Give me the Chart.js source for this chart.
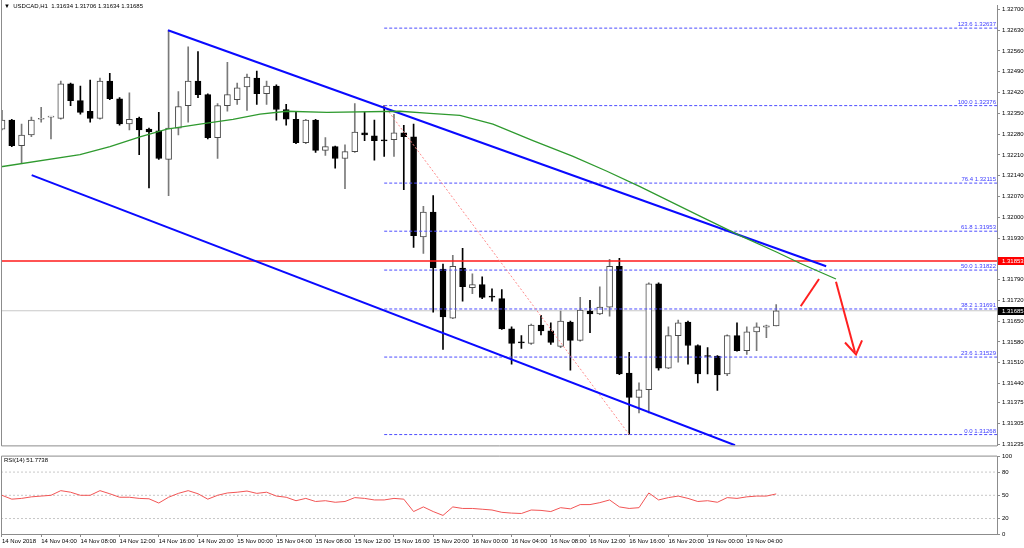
<!DOCTYPE html>
<html>
<head>
<meta charset="utf-8">
<script src="https://cdn.jsdelivr.net/npm/chart.js@4.4.0/dist/chart.umd.min.js"></script>
<style>
  body { margin: 0; background: #fff; width: 1024px; height: 548px; overflow: hidden; }
  .box { position: absolute; left: 0; width: 1024px; }
</style>
</head>
<body>
<div class="box" style="top:0;height:451px"><canvas id="price_chart"></canvas></div>
<div class="box" style="top:451px;height:97px"><canvas id="rsi_chart"></canvas></div>
<script>
// USDCAD H1, 14 Nov 2018 00:00 .. 19 Nov 2018 07:00 (one value per bar)
const opens = [
  1.32297,1.32327,1.32241,1.32277,1.32330,1.32337,1.32333,1.32449,1.32393,1.32357,
  1.32333,1.32459,1.32399,1.32314,1.32333,1.32297,1.32291,1.32195,1.32300,1.32376,
  1.32459,1.32413,1.32268,1.32376,1.32396,1.32439,1.32469,1.32416,1.32442,1.32363,
  1.32330,1.32251,1.32327,1.32225,1.32238,1.32198,1.32221,1.32284,1.32274,1.32258,
  1.32261,1.32284,1.32271,1.31934,1.32017,1.31825,1.31660,1.31829,1.31763,1.31773,
  1.31733,1.31726,1.31624,1.31578,1.31575,1.31637,1.31617,1.31565,1.31647,1.31585,
  1.31684,1.31674,1.31697,1.31835,1.31475,1.31393,1.31419,1.31776,1.31492,1.31601,
  1.31647,1.31568,1.31532,1.31532,1.31472,1.31601,1.31551,1.31614,1.31630,1.31634
];
const highs = [
  1.32360,1.32330,1.32314,1.32337,1.32370,1.32340,1.32459,1.32452,1.32442,1.32462,
  1.32469,1.32485,1.32403,1.32419,1.32337,1.32300,1.32353,1.32630,1.32423,1.32574,
  1.32558,1.32416,1.32383,1.32522,1.32452,1.32482,1.32492,1.32459,1.32446,1.32380,
  1.32353,1.32330,1.32330,1.32268,1.32240,1.32244,1.32383,1.32353,1.32327,1.32376,
  1.32347,1.32310,1.32314,1.32037,1.32073,1.31842,1.31872,1.31895,1.31809,1.31799,
  1.31759,1.31756,1.31631,1.31601,1.31640,1.31670,1.31644,1.31684,1.31650,1.31730,
  1.31720,1.31766,1.31858,1.31862,1.31545,1.31442,1.31779,1.31779,1.31631,1.31654,
  1.31650,1.31570,1.31561,1.31534,1.31604,1.31644,1.31631,1.31644,1.31637,1.31706
];
const lows = [
  1.32294,1.32238,1.32182,1.32271,1.32320,1.32264,1.32330,1.32376,1.32347,1.32320,
  1.32330,1.32396,1.32310,1.32294,1.32211,1.32099,1.32195,1.32073,1.32277,1.32320,
  1.32403,1.32264,1.32198,1.32357,1.32380,1.32360,1.32380,1.32380,1.32327,1.32310,
  1.32248,1.32248,1.32218,1.32208,1.32165,1.32096,1.32218,1.32258,1.32192,1.32205,
  1.32205,1.32093,1.31898,1.31878,1.31680,1.31555,1.31658,1.31717,1.31743,1.31726,
  1.31717,1.31622,1.31505,1.31558,1.31572,1.31604,1.31572,1.31561,1.31485,1.31583,
  1.31611,1.31672,1.31667,1.31470,1.31268,1.31341,1.31341,1.31485,1.31490,1.31512,
  1.31505,1.31442,1.31472,1.31417,1.31466,1.31549,1.31538,1.31551,1.31594,1.31634
];
const closes = [
  1.32327,1.32241,1.32277,1.32327,1.32333,1.32338,1.32449,1.32393,1.32353,1.32333,
  1.32459,1.32399,1.32314,1.32330,1.32294,1.32287,1.32198,1.32300,1.32373,1.32459,
  1.32413,1.32268,1.32376,1.32413,1.32436,1.32472,1.32416,1.32442,1.32363,1.32330,
  1.32251,1.32327,1.32225,1.32238,1.32198,1.32221,1.32287,1.32277,1.32258,1.32257,
  1.32284,1.32271,1.31938,1.32017,1.31829,1.31664,1.31835,1.31766,1.31773,1.31730,
  1.31731,1.31624,1.31575,1.31577,1.31637,1.31617,1.31578,1.31650,1.31585,1.31687,
  1.31674,1.31697,1.31835,1.31472,1.31393,1.31419,1.31776,1.31492,1.31601,1.31644,
  1.31568,1.31472,1.31531,1.31469,1.31601,1.31551,1.31614,1.31631,1.31634,1.31685
];
const rsi_values = [
  50,45,46,48,49,50,56,54,50,50,
  56,52,47.5,47.5,46,45.5,40,47.5,52.5,56,
  52,45,50,53,54,55.5,52.5,54,49,47.5,
  43,46,42,43,41,42,47,46,44,44,
  46,45,29,35,29,24,35,33,33,32,
  31,28,27,26.5,31,30.5,29,34,32.5,38,
  38,40.5,44,35,33,34,53,44,47,49,
  46,42,43,41,47,46,48,49,49,51.77
];

// green moving average, read at a few bars (bar index, price)
const ma_bars   = [-0.1, 7.96, 11.02, 14.08, 16.84, 20.2, 23.57, 26.33, 29.08, 33.16, 40.6, 43.67, 46.73, 50.1, 54.18, 58.27, 61.73, 65.1, 71.22, 75.31, 79.08, 81.43, 85.1];
const ma_prices = [1.32170,1.32211,1.32238,1.32271,1.32297,1.32314,1.32330,1.32347,1.32357,1.32353,1.32357,1.32350,1.32343,1.32314,1.32258,1.32205,1.32155,1.32103,1.32004,1.31938,1.31882,1.31845,1.31792];

// channel lines (bar index, price)
const upper_line = [[16.94, 1.32630], [84.1, 1.31835]];
const lower_line = [[3.03, 1.32142], [74.8, 1.31232]];
// expected move sketch
const arrow_up   = [[81.5, 1.31700], [83.37, 1.31792]];
const arrow_down = [[85.1, 1.31783], [87.04, 1.31545]];
const arrow_head = [[86.02, 1.31578], [87.14, 1.31538], [87.76, 1.31585]];

// fibonacci retracement from bar 39 high to bar 64 low
const fib_from = [39, 1.32376];
const fib_to   = [64, 1.31268];
const fib_names  = ["123.6", "100.0", "76.4", "61.8", "50.0", "38.2", "23.6", "0.0"];
const fib_prices = [1.32637, 1.32376, 1.32115, 1.31953, 1.31822, 1.31691, 1.31529, 1.31268];

const resistance = 1.31853;
const last_price = 1.31685;

const price_ticks = [1.32700,1.32630,1.32560,1.32490,1.32420,1.32350,1.32280,1.32210,1.32140,1.32070,1.32000,1.31930,1.31790,1.31720,1.31650,1.31580,1.31510,1.31440,1.31375,1.31305,1.31235];
const rsi_ticks = [0, 20, 50, 80, 100];
const rsi_levels = [20, 50, 80];
const time_tick_bars = [0,4,8,12,16,20,24,28,32,36,40,44,48,52,56,60,64,68,72,76];
const time_labels = ["14 Nov 2018","14 Nov 04:00","14 Nov 08:00","14 Nov 12:00","14 Nov 16:00","14 Nov 20:00","15 Nov 00:00","15 Nov 04:00","15 Nov 08:00","15 Nov 12:00","15 Nov 16:00","15 Nov 20:00","16 Nov 00:00","16 Nov 04:00","16 Nov 08:00","16 Nov 12:00","16 Nov 16:00","16 Nov 20:00","19 Nov 00:00","19 Nov 04:00"];

const x_min = -0.1;
const x_max = 101.53;
const FONT = '"Liberation Sans", Arial, sans-serif';

Chart.defaults.font.family = FONT;
Chart.defaults.font.size = 6;
Chart.defaults.color = "#000";
Chart.defaults.animation = false;
Chart.defaults.events = [];

const bull = opens.map((o, i) => closes[i] >= o);
const pts = arr => arr.map(p => ({ x: p[0], y: p[1] }));

function lineSet(data, color, width, dash, order)
{
    return {
        type: "line",
        data: data,
        borderColor: color,
        borderWidth: width,
        borderDash: dash || [],
        pointRadius: 0,
        tension: 0,
        fill: false,
        order: order === undefined ? 1 : order
    };
}

const price_datasets =
[
    {
        type: "bar",
        data: opens.map((o, i) => ({ x: i, y: [lows[i], highs[i]] })),
        backgroundColor: bull.map(b => b ? "#7a7a7a" : "#000000"),
        barThickness: 1,
        grouped: false,
        order: 4
    },
    {
        type: "bar",
        data: opens.map((o, i) => ({ x: i, y: [o, closes[i]] })),
        backgroundColor: bull.map(b => b ? "#ffffff" : "#000000"),
        borderColor: bull.map(b => b ? "#4a4a4a" : "#000000"),
        borderWidth: 1,
        borderSkipped: false,
        barThickness: 6,
        minBarLength: 1,
        grouped: false,
        order: 3
    },
    lineSet([{ x: x_min, y: last_price }, { x: x_max, y: last_price }], "#c8c8c8", 1, [], 5),
    lineSet([{ x: x_min, y: resistance }, { x: x_max, y: resistance }], "#ff1a1a", 1.5, [], 2),
    lineSet(ma_bars.map((b, i) => ({ x: b, y: ma_prices[i] })), "#2f9a2f", 1.3),
    lineSet(pts(upper_line), "#0a0aff", 2),
    lineSet(pts(lower_line), "#0a0aff", 2),
    lineSet(pts([fib_from, fib_to]), "#ff8a8a", 1, [2, 2]),
    lineSet(pts(arrow_up), "#ff2020", 2, [], 0),
    lineSet(pts(arrow_down), "#ff2020", 2, [], 0),
    lineSet(pts(arrow_head), "#ff2020", 2, [], 0)
];
fib_prices.forEach(p =>
{
    price_datasets.push(lineSet([{ x: fib_from[0], y: p }, { x: x_max, y: p }], "#4d4dff", 1, [3, 2], 2));
});

const price_overlay =
{
    id: "price_overlay",
    afterDraw(chart)
    {
        const ctx = chart.ctx;
        const a = chart.chartArea;
        const y = chart.scales.y;
        ctx.save();
        ctx.strokeStyle = "#8c8c8c";
        ctx.lineWidth = 1;
        ctx.beginPath();
        ctx.moveTo(a.left + 0.5, 0);
        ctx.lineTo(a.left + 0.5, a.bottom + 0.5);
        ctx.lineTo(a.right, a.bottom + 0.5);
        ctx.stroke();

        ctx.font = "6px " + FONT;
        ctx.fillStyle = "#3c3cff";
        ctx.textAlign = "right";
        ctx.textBaseline = "bottom";
        fib_prices.forEach((p, i) =>
        {
            ctx.fillText(fib_names[i] + " " + p.toFixed(5), a.right - 1, y.getPixelForValue(p) - 0.5);
        });

        [[resistance, "#ff0000"], [last_price, "#000000"]].forEach(([p, bg]) =>
        {
            const py = Math.round(y.getPixelForValue(p));
            ctx.fillStyle = bg;
            ctx.fillRect(a.right + 1, py - 4, chart.width - a.right - 1, 8);
            ctx.fillStyle = "#ffffff";
            ctx.textAlign = "left";
            ctx.textBaseline = "middle";
            ctx.fillText(p.toFixed(5), a.right + 5, py);
        });

        ctx.fillStyle = "#000";
        ctx.textAlign = "left";
        ctx.textBaseline = "middle";
        ctx.fillText("\u25BC  USDCAD,H1  1.31634 1.31706 1.31634 1.31685", 4, 6);
        ctx.restore();
    }
};

new Chart("price_chart",
{
    type: "bar",
    data: { datasets: price_datasets },
    options:
    {
        responsive: true,
        maintainAspectRatio: false,
        layout: { padding: { left: 1, top: 1, right: 0, bottom: 1 } },
        plugins: { legend: { display: false }, tooltip: { enabled: false } },
        scales:
        {
            x: { type: "linear", min: x_min, max: x_max, offset: false, display: false },
            y:
            {
                position: "right",
                min: 1.312315,
                max: 1.327129,
                afterBuildTicks: s => { s.ticks = price_ticks.map(v => ({ value: v })); },
                afterFit: s => { s.width = 27; },
                ticks: { autoSkip: false, padding: 2, callback: v => v.toFixed(5) },
                grid: { drawOnChartArea: false, tickLength: 3, color: "#8c8c8c" },
                border: { color: "#8c8c8c" }
            }
        }
    },
    plugins: [price_overlay]
});

const rsi_datasets =
[
    lineSet(rsi_values.map((v, i) => ({ x: i, y: v })), "#f25555", 1)
];
rsi_levels.forEach(l =>
{
    rsi_datasets.push(lineSet([{ x: x_min, y: l }, { x: x_max, y: l }], "#c8c8c8", 1, [2, 2], 3));
});

const rsi_overlay =
{
    id: "rsi_overlay",
    afterDraw(chart)
    {
        const ctx = chart.ctx;
        const a = chart.chartArea;
        ctx.save();
        ctx.strokeStyle = "#8c8c8c";
        ctx.lineWidth = 1;
        ctx.beginPath();
        ctx.moveTo(a.right, a.top - 0.5);
        ctx.lineTo(a.left + 0.5, a.top - 0.5);
        ctx.lineTo(a.left + 0.5, a.bottom);
        ctx.stroke();
        ctx.font = "6px " + FONT;
        ctx.fillStyle = "#000";
        ctx.textAlign = "left";
        ctx.textBaseline = "middle";
        ctx.fillText("RSI(14) 51.7738", 4, a.top + 4);
        ctx.restore();
    }
};

new Chart("rsi_chart",
{
    type: "line",
    data: { datasets: rsi_datasets },
    options:
    {
        responsive: true,
        maintainAspectRatio: false,
        layout: { padding: { left: 1, top: 2, right: 0, bottom: 0 } },
        plugins: { legend: { display: false }, tooltip: { enabled: false } },
        scales:
        {
            x:
            {
                type: "linear",
                min: x_min,
                max: x_max,
                offset: false,
                afterBuildTicks: s => { s.ticks = time_tick_bars.map(v => ({ value: v })); },
                afterFit: s => { s.height = 14; },
                ticks: { autoSkip: false, maxRotation: 0, align: "start", padding: 1, callback: (v, i) => time_labels[i] },
                grid: { drawOnChartArea: false, tickLength: 3, color: "#8c8c8c" },
                border: { color: "#8c8c8c" }
            },
            y:
            {
                position: "right",
                min: 0,
                max: 100,
                afterBuildTicks: s => { s.ticks = rsi_ticks.map(v => ({ value: v })); },
                afterFit: s => { s.width = 27; },
                ticks: { autoSkip: false, padding: 2 },
                grid: { drawOnChartArea: false, tickLength: 3, color: "#8c8c8c" },
                border: { color: "#8c8c8c" }
            }
        }
    },
    plugins: [rsi_overlay]
});
</script>
</body>
</html>
